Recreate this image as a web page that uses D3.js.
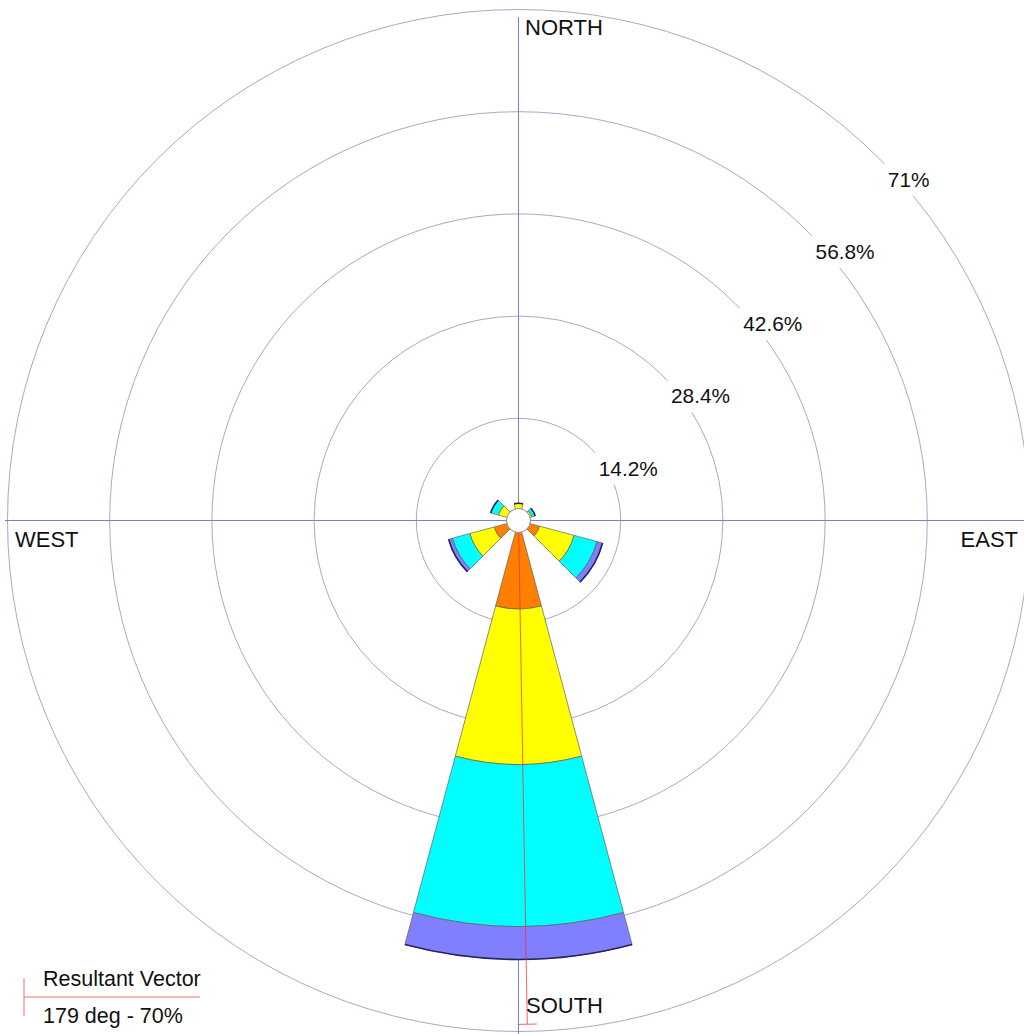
<!DOCTYPE html>
<html>
<head>
<meta charset="utf-8">
<script src="https://cdn.jsdelivr.net/npm/d3@7"></script>
<style>
  html, body { margin: 0; padding: 0; background: #ffffff; }
  svg { display: block; }
  text { font-family: "Liberation Sans", Arial, sans-serif; fill: #111111; }
</style>
</head>
<body>
<div id="chart"></div>
<script>
// ---- data ----
const directions = [0, 30, 60, 90, 120, 150, 180, 210, 240, 270, 300, 330]; // bearing (deg)
const speedClasses = ["Class 1", "Class 2", "Class 3", "Class 4"];
const classColors = ["#ff8000", "#ffff00", "#00ffff", "#8080ff"];
const class1Values = [1.0, 0, 0.6, 0, 3.05, 0, 12.3, 0, 3.5, 0, 1.2, 0];   // %
const class2Values = [1.4, 0, 1.3, 0, 4.95, 0, 21.6, 0, 3.5, 0, 1.7, 0];
const class3Values = [0, 0, 0.5, 0, 3.3, 0, 22.5, 0, 2.5, 0, 1.1, 0];
const class4Values = [0, 0, 0, 0, 0.8, 0, 4.6, 0, 0.55, 0, 0, 0];
const ringTicks = [14.2, 28.4, 42.6, 56.8, 71];
const ringLabels = ["14.2%", "28.4%", "42.6%", "56.8%", "71%"];
const compassLabels = ["NORTH", "EAST", "SOUTH", "WEST"];
const resultantBearing = 179;
const resultantPct = 70;
const legendTitle = "Resultant Vector";
const legendValue = "179 deg - 70%";

// ---- layout ----
const W = 1024, H = 1034;
const cx = 518.5, cy = 520.5;
const sectorHalf = 15; // degrees
const r = d3.scaleLinear().domain([0, 71]).range([0, 511]);
const rad = d => d * Math.PI / 180;

const svg = d3.select("#chart").append("svg").attr("width", W).attr("height", H);
svg.append("rect").attr("width", W).attr("height", H).attr("fill", "#fff");

const g = svg.append("g").attr("transform", `translate(${cx},${cy})`);

// rings
g.selectAll("circle.ring").data(ringTicks).join("circle")
  .attr("class", "ring")
  .attr("r", d => r(d))
  .attr("fill", "none")
  .attr("stroke", "#a8a8cc")
  .attr("stroke-width", 1);

// axes
g.append("line").attr("x1", 5 - cx).attr("x2", W - cx).attr("y1", 0).attr("y2", 0)
  .attr("stroke", "#8080c0").attr("stroke-width", 1);
g.append("line").attr("x1", 0).attr("x2", 0).attr("y1", 17 - cy).attr("y2", H - cy)
  .attr("stroke", "#8080c0").attr("stroke-width", 1);

// ring labels
const lab = g.selectAll("g.rl").data(ringTicks).join("g").attr("class", "rl")
  .attr("transform", d => `translate(${r(d) * Math.SQRT1_2 + 8},${-r(d) * Math.SQRT1_2 + 27.5})`);
lab.append("rect").attr("x", -6).attr("y", -23).attr("height", 32)
  .attr("width", (d, i) => ringLabels[i].length * 11.5 + 10)
  .attr("fill", "#fff");
lab.append("text").attr("x", 0).attr("y", 0).attr("font-size", 20.8)
  .text((d, i) => ringLabels[i]);

// petals
const series = [class1Values, class2Values, class3Values, class4Values];
const arc = d3.arc();
directions.forEach((dir, di) => {
  let cum = 0;
  const segs = [];
  series.forEach((vals, ci) => {
    const v = vals[di];
    if (v > 0) {
      segs.push({ inner: cum, outer: cum + v, color: classColors[ci] });
    }
    cum += v;
  });
  segs.forEach(s => {
    g.append("path")
      .attr("d", arc({
        innerRadius: r(s.inner), outerRadius: r(s.outer),
        startAngle: rad(dir - sectorHalf), endAngle: rad(dir + sectorHalf)
      }))
      .attr("fill", s.color)
      .attr("stroke", "#606060")
      .attr("stroke-width", 0.7);
  });
  if (segs.length) {
    const outer = r(segs[segs.length - 1].outer);
    const outerArc = d3.arc()({
      innerRadius: outer, outerRadius: outer,
      startAngle: rad(dir - sectorHalf), endAngle: rad(dir + sectorHalf)
    });
    g.append("path").attr("d", outerArc).attr("fill", "none")
      .attr("stroke", "#26265e").attr("stroke-width", 1.6);
  }
});

// resultant vector
const rv = r(resultantPct);
const ex = rv * Math.sin(rad(resultantBearing));
const ey = -rv * Math.cos(rad(resultantBearing));
g.append("line").attr("x1", 0).attr("y1", 0).attr("x2", ex).attr("y2", ey)
  .attr("stroke", "#f03030").attr("stroke-width", 1).attr("stroke-opacity", 0.75);
const px = Math.cos(rad(resultantBearing)), py = Math.sin(rad(resultantBearing));
g.append("line")
  .attr("x1", ex - 9.5 * px).attr("y1", ey - 9.5 * py)
  .attr("x2", ex + 9.5 * px).attr("y2", ey + 9.5 * py)
  .attr("stroke", "#f03030").attr("stroke-width", 1).attr("stroke-opacity", 0.75);

// calm circle
g.append("circle").attr("r", 12).attr("fill", "#fff").attr("stroke", "#8a8a8a").attr("stroke-width", 1);

// compass labels
const fs = 22;
svg.append("text").attr("x", 525).attr("y", 35).attr("font-size", fs).text(compassLabels[0]);
svg.append("text").attr("x", 1018).attr("y", 547).attr("font-size", fs).attr("text-anchor", "end").text(compassLabels[1]);
svg.append("text").attr("x", 526).attr("y", 1013).attr("font-size", fs).text(compassLabels[2]);
svg.append("text").attr("x", 15).attr("y", 547).attr("font-size", fs).text(compassLabels[3]);

// legend
svg.append("line").attr("x1", 24).attr("x2", 200).attr("y1", 997).attr("y2", 997)
  .attr("stroke", "#f07070").attr("stroke-width", 1);
svg.append("line").attr("x1", 24).attr("x2", 24).attr("y1", 978).attr("y2", 1016)
  .attr("stroke", "#f07070").attr("stroke-width", 1);
svg.append("text").attr("x", 43).attr("y", 986).attr("font-size", 21.5).text(legendTitle);
svg.append("text").attr("x", 43).attr("y", 1023).attr("font-size", 21.5).text(legendValue);
</script>
</body>
</html>
